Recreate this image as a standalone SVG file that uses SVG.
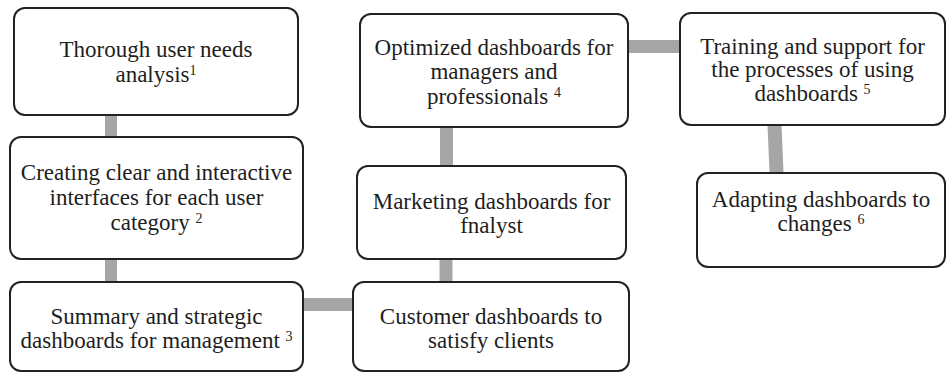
<svg xmlns="http://www.w3.org/2000/svg" width="947" height="373" viewBox="0 0 947 373">
<style>
.box{fill:#fff;stroke:#222;stroke-width:2}
.t{font-family:'Liberation Serif','Times New Roman',Times,serif;font-size:23px;fill:#1e1e1e;text-anchor:middle}
.sup{font-size:14px}
.c{stroke:#a6a6a6;fill:none}
</style>
<rect width="947" height="373" fill="#fff"/>
<g id="connectors">
<line class="c" x1="111" y1="115" x2="111" y2="137" stroke-width="12"/>
<line class="c" x1="111" y1="259" x2="111" y2="282" stroke-width="12"/>
<line class="c" x1="303" y1="304.5" x2="353" y2="304.5" stroke-width="13"/>
<line class="c" x1="446" y1="259" x2="446" y2="282" stroke-width="13"/>
<line class="c" x1="446.5" y1="127" x2="446.5" y2="166" stroke-width="13"/>
<line class="c" x1="628" y1="46.5" x2="680" y2="46.5" stroke-width="13"/>
<line class="c" x1="774.5" y1="125" x2="776.5" y2="173" stroke-width="14"/>
</g>
<g id="n1">
<rect class="box" x="14" y="8" width="284" height="107" rx="11"/>
<text class="t" font-family="Liberation Serif, serif"><tspan x="156" y="57">Thorough user needs</tspan><tspan x="156" y="82">analysis<tspan class="sup" dy="-7">1</tspan></tspan></text>
</g>
<g id="n2">
<rect class="box" x="10" y="137" width="293" height="122" rx="11"/>
<text class="t" font-family="Liberation Serif, serif"><tspan x="156.5" y="180">Creating clear and interactive</tspan><tspan x="156.5" y="205">interfaces for each user</tspan><tspan x="156.5" y="230">category <tspan class="sup" dy="-7">2</tspan></tspan></text>
</g>
<g id="n3">
<rect class="box" x="10" y="282" width="293" height="89" rx="11"/>
<text class="t" font-family="Liberation Serif, serif"><tspan x="156.5" y="324">Summary and strategic</tspan><tspan x="156.5" y="348">dashboards for management <tspan class="sup" dy="-7">3</tspan></tspan></text>
</g>
<g id="n4">
<rect class="box" x="360" y="14" width="268" height="113" rx="11"/>
<text class="t" font-family="Liberation Serif, serif"><tspan x="494" y="55">Optimized dashboards for</tspan><tspan x="494" y="79">managers and</tspan><tspan x="494" y="104">professionals <tspan class="sup" dy="-7">4</tspan></tspan></text>
</g>
<g id="n5">
<rect class="box" x="357" y="166" width="269" height="93" rx="11"/>
<text class="t" font-family="Liberation Serif, serif"><tspan x="491.5" y="209">Marketing dashboards for</tspan><tspan x="491.5" y="233">fnalyst</tspan></text>
</g>
<g id="n6">
<rect class="box" x="353" y="282" width="276" height="89" rx="11"/>
<text class="t" font-family="Liberation Serif, serif"><tspan x="491" y="324">Customer dashboards to</tspan><tspan x="491" y="348">satisfy clients</tspan></text>
</g>
<g id="n7">
<rect class="box" x="680" y="13" width="265" height="112" rx="11"/>
<text class="t" font-family="Liberation Serif, serif"><tspan x="812.5" y="54">Training and support for</tspan><tspan x="812.5" y="77">the processes of using</tspan><tspan x="812.5" y="101">dashboards <tspan class="sup" dy="-7">5</tspan></tspan></text>
</g>
<g id="n8">
<rect class="box" x="697" y="173" width="248" height="94" rx="11"/>
<text class="t" font-family="Liberation Serif, serif"><tspan x="821" y="207">Adapting dashboards to</tspan><tspan x="821" y="231">changes <tspan class="sup" dy="-7">6</tspan></tspan></text>
</g>
</svg>
